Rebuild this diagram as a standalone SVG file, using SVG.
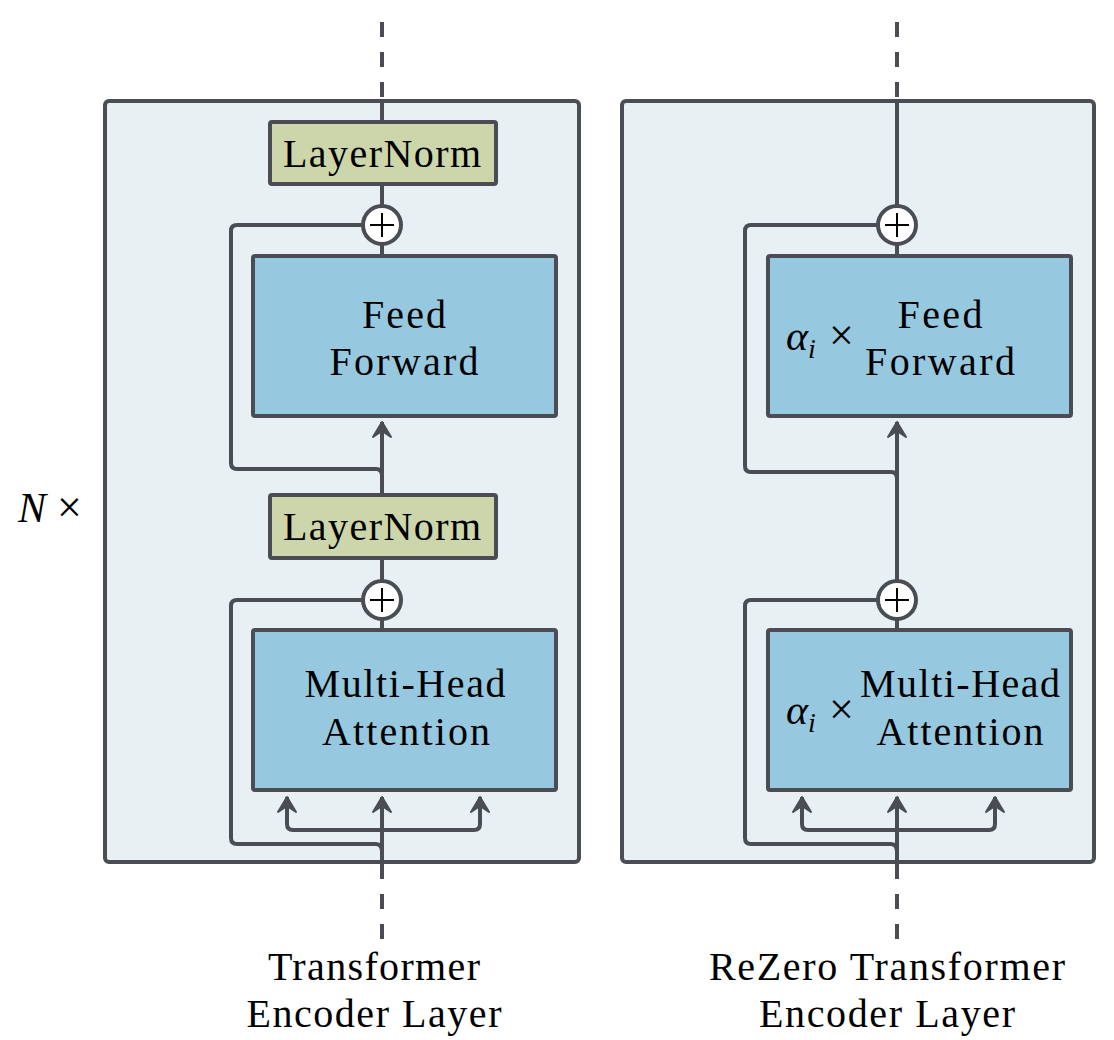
<svg xmlns="http://www.w3.org/2000/svg" width="1114" height="1040" viewBox="0 0 1114 1040">
<defs>
<marker id="ah" markerUnits="userSpaceOnUse" markerWidth="24" markerHeight="24" viewBox="-18 -12 22 24" refX="0" refY="0" orient="auto">
<path d="M0,0 L-15,-9 L-9,0 L-15,9 Z" fill="#4a4d53" stroke="#4a4d53" stroke-width="2" stroke-linejoin="round"/>
</marker>
<style>
.outer{fill:#e8f0f4;stroke:#4a4d53;stroke-width:4}
.ln{fill:#cdd6aa;stroke:#4a4d53;stroke-width:4}
.blk{fill:#96c9df;stroke:#4a4d53;stroke-width:4}
.c{fill:none;stroke:#4a4d53;stroke-width:4;stroke-linecap:butt}
.d{fill:none;stroke:#4a4d53;stroke-width:4;stroke-dasharray:15 15}
.a{marker-end:url(#ah)}
.plus{fill:#fff;stroke:#4a4d53;stroke-width:4}
.pl{stroke:#000;stroke-width:2}
text{font-family:"Liberation Serif","Times New Roman",serif;font-size:40px;fill:#000;text-anchor:middle}
.m{font-style:italic;text-anchor:start;font-size:42px}
.x{text-anchor:start;font-size:44px}
</style>
</defs>
<g id="outer-left"><rect class="outer" x="105" y="101" width="474" height="761" rx="4"/></g>
<g id="outer-right"><rect class="outer" x="622" y="101" width="472" height="761" rx="4"/></g>
<g id="connectors">
<path class="d" d="M382,22 V101"/>
<path class="c" d="M382,101 V122"/>
<path class="c" d="M382,184 V206"/>
<path class="c" d="M382,244 V256"/>
<path class="c" d="M363,225 H237 Q231,225 231,231 V463 Q231,469 237,469 H376 Q382,469 382,476"/>
<path class="c a" d="M382,495 V422"/>
<path class="c" d="M382,558 V581"/>
<path class="c" d="M382,619 V630"/>
<path class="c" d="M363,600 H237 Q231,600 231,606 V838 Q231,844 237,844 H376 Q382,844 382,852"/>
<path class="c a" d="M382,862 V797"/>
<path class="c a" d="M382,830 H293 Q287,830 287,824 V797"/>
<path class="c a" d="M382,830 H474 Q480,830 480,824 V797"/>
<path class="d" d="M382,864 V940"/>
<path class="d" d="M897,22 V101"/>
<path class="c" d="M897,101 V206"/>
<path class="c" d="M897,244 V256"/>
<path class="c" d="M878,225 H751 Q745,225 745,231 V466 Q745,472 751,472 H891 Q897,472 897,479"/>
<path class="c a" d="M897,581 V422"/>
<path class="c" d="M897,619 V630"/>
<path class="c" d="M878,600 H751 Q745,600 745,606 V838 Q745,844 751,844 H891 Q897,844 897,852"/>
<path class="c a" d="M897,862 V797"/>
<path class="c a" d="M897,830 H808 Q802,830 802,824 V797"/>
<path class="c a" d="M897,830 H989 Q995,830 995,824 V797"/>
<path class="d" d="M897,864 V940"/>
</g>
<g id="ln-top-left"><rect class="ln" x="270" y="122" width="226" height="62" rx="2"/><text x="382" y="167" textLength="198">LayerNorm</text></g>
<g id="plus-top-left"><circle class="plus" cx="382" cy="225" r="19"/><path class="pl" d="M370,225 H394 M382,213 V237"/></g>
<g id="ff-left"><rect class="blk" x="253" y="256" width="303" height="160" rx="2"/><text x="404" y="328" textLength="84">Feed</text><text x="404" y="375" textLength="149">Forward</text></g>
<g id="ln-bot-left"><rect class="ln" x="270" y="495" width="226" height="63" rx="2"/><text x="382" y="540" textLength="198">LayerNorm</text></g>
<g id="plus-bot-left"><circle class="plus" cx="382" cy="600" r="19"/><path class="pl" d="M370,600 H394 M382,588 V612"/></g>
<g id="mha-left"><rect class="blk" x="253" y="630" width="303" height="160" rx="2"/><text x="405" y="697" textLength="201">Multi-Head</text><text x="406" y="745" textLength="168">Attention</text></g>
<g id="plus-top-right"><circle class="plus" cx="897" cy="225" r="19"/><path class="pl" d="M885,225 H909 M897,213 V237"/></g>
<g id="ff-right"><rect class="blk" x="768" y="256" width="303" height="160" rx="2"/><text x="940" y="328" textLength="85">Feed</text><text x="940" y="375" textLength="150">Forward</text><text class="m" x="786" y="350">α<tspan dy="8" font-size="28">i</tspan></text><text class="x" x="829" y="350">×</text></g>
<g id="plus-bot-right"><circle class="plus" cx="897" cy="600" r="19"/><path class="pl" d="M885,600 H909 M897,588 V612"/></g>
<g id="mha-right"><rect class="blk" x="768" y="630" width="303" height="160" rx="2"/><text x="960" y="697" textLength="200">Multi-Head</text><text x="960" y="745" textLength="167">Attention</text><text class="m" x="786" y="724">α<tspan dy="8" font-size="28">i</tspan></text><text class="x" x="829" y="724">×</text></g>
<g id="labels">
<text class="m" x="18" y="522">N</text><text class="x" x="57" y="522">×</text>
<text x="374" y="980" textLength="212">Transformer</text>
<text x="374" y="1027" textLength="255">Encoder Layer</text>
<text x="887" y="980" textLength="356">ReZero Transformer</text>
<text x="887" y="1027" textLength="256">Encoder Layer</text>
</g>
</svg>
